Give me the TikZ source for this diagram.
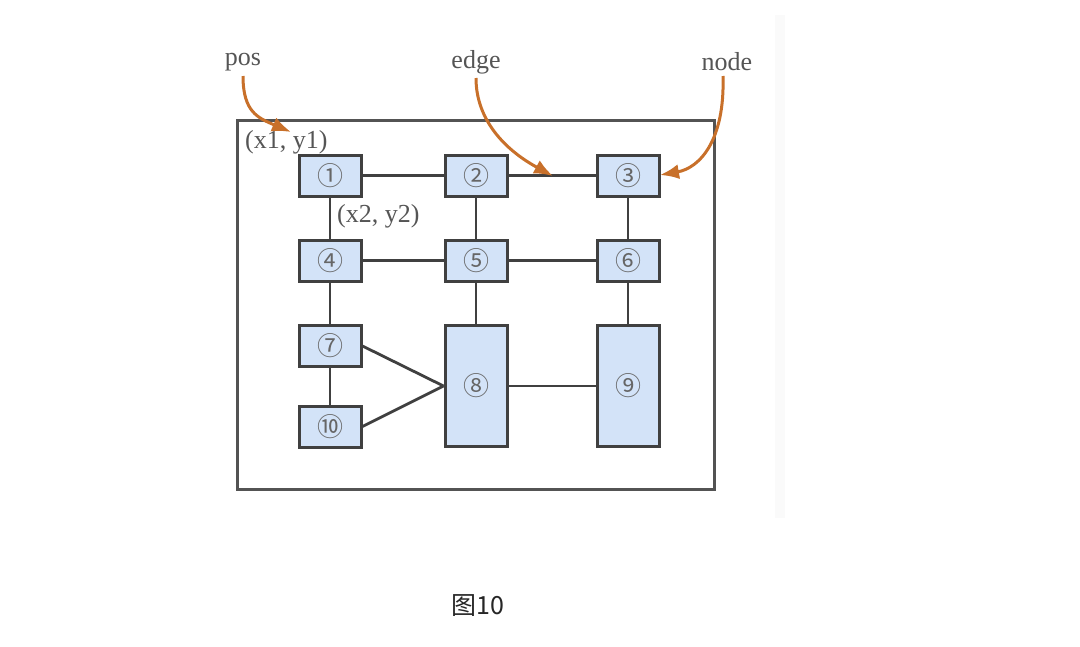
\documentclass[tikz,border=0pt]{standalone}
\usepackage{fontspec}
\setmainfont{Liberation Serif}
\newfontfamily\cjk{Noto Sans CJK SC}
\usetikzlibrary{arrows.meta}
\definecolor{boxfill}{HTML}{D3E3F8}
\definecolor{edgegray}{HTML}{404040}
\definecolor{labgray}{HTML}{555555}
\definecolor{digitgray}{HTML}{666666}
\definecolor{orangearrow}{HTML}{C8702A}
\tikzset{
  box/.style={draw=edgegray, line width=3pt, fill=boxfill, minimum width=62pt, minimum height=41pt, inner sep=0pt, font=\cjk\fontsize{26}{26}\selectfont, text=digitgray},
  tall/.style={box, minimum height=121pt},
  link/.style={draw=edgegray, line width=2.8pt},
  lab/.style={font=\fontsize{26}{26}\selectfont, text=labgray, inner sep=0pt},
  callout/.style={draw=orangearrow, line width=3pt, -{Latex[length=19pt,width=15pt]}}
}
\begin{document}
\begin{tikzpicture}[x=1pt,y=-1pt]
\useasboundingbox (0,0) rectangle (1080,646);
\fill[gray!4] (775,15) rectangle (785,518);
% outer frame
\node[draw=edgegray!90, line width=3pt, minimum width=477pt, minimum height=369pt, inner sep=0pt] (frame) at (475.5,304.5) {};
% nodes
\node[box] (n1) at (330,175.5) {①};
\node[box] (n2) at (476,175.5) {②};
\node[box] (n3) at (628,175.5) {③};
\node[box] (n4) at (330,260.5) {④};
\node[box] (n5) at (476,260.5) {⑤};
\node[box] (n6) at (628,260.5) {⑥};
\node[box] (n7) at (330,346) {⑦};
\node[box] (n10) at (330,426.5) {⑩};
\node[tall] (n8) at (476,386) {⑧};
\node[tall] (n9) at (628,386) {⑨};
% links
\draw[link] (n1) -- (n2);
\draw[link] (n2) -- (n3);
\draw[link] (n1) -- (n4);
\draw[link] (n2) -- (n5);
\draw[link] (n3) -- (n6);
\draw[link] (n4) -- (n5);
\draw[link] (n5) -- (n6);
\draw[link] (n4) -- (n7);
\draw[link] (n5) -- (n8);
\draw[link] (n6) -- (n9);
\draw[link] (n7) -- (n10);
\draw[link] (n7.east) -- (n8.west);
\draw[link] (n10.east) -- (n8.west);
\draw[link] (n8) -- (n9);
% coordinate labels
\node[lab, anchor=west] (p1) at (245,142) {(x1, y1)};
\node[lab, anchor=west] (p2) at (337,216) {(x2, y2)};
% callout labels
\node[lab] (tpos) at (243,62) {pos};
\node[lab] (tedge) at (476,62) {edge};
\node[lab] (tnode) at (727,62) {node};
\coordinate (apos) at (291,132);
\coordinate (aedge) at (553,176);
\coordinate (anode) at (660,175);
\draw[callout] (243,76) .. controls (243,112) and (258,118) .. (apos);
\draw[callout] (476,78) .. controls (476,120) and (505,150) .. (aedge);
\draw[callout] (723,76) .. controls (725,140) and (700,168) .. (anode);
% caption
\node[font=\cjk\fontsize{25}{25}\selectfont, text=black!85, inner sep=0pt] (cap) at (478,606) {图10};
\end{tikzpicture}
\end{document}
